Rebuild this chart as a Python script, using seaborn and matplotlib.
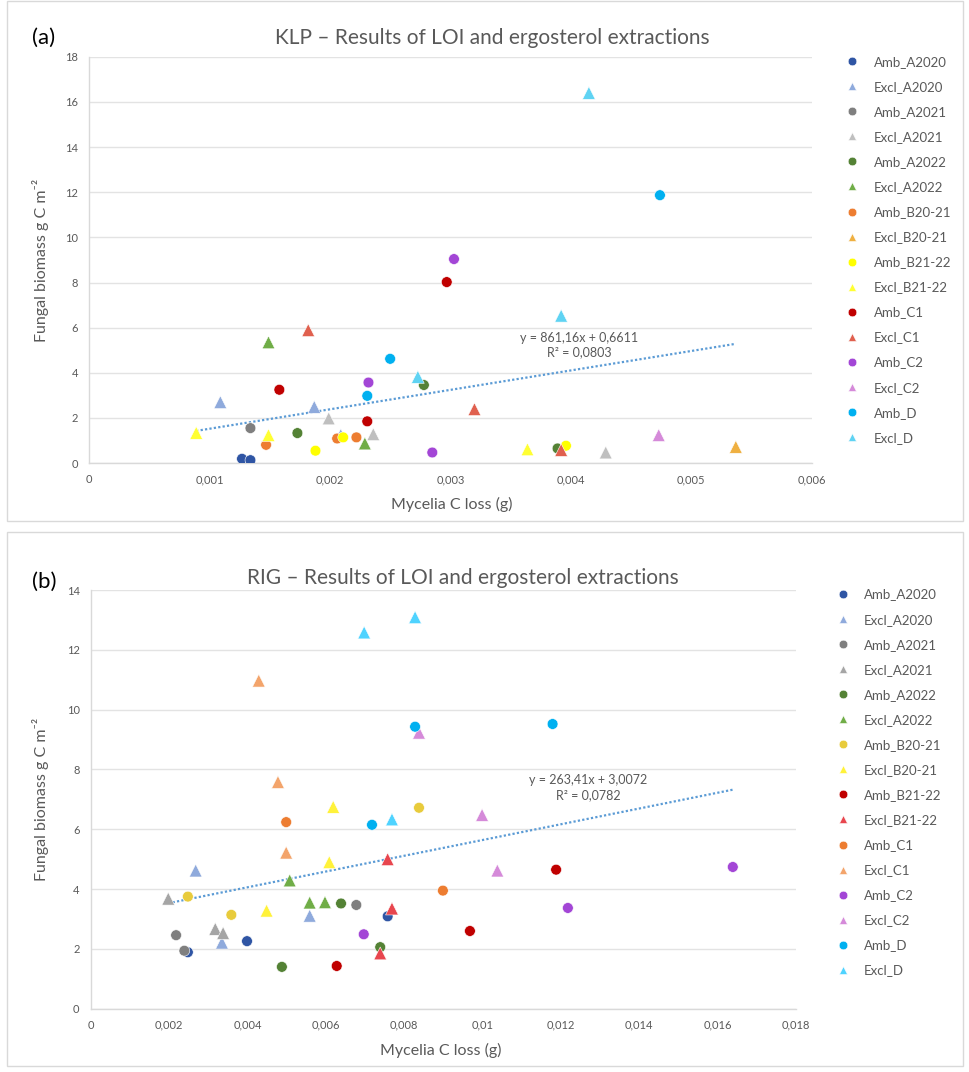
import seaborn as sns
import matplotlib.pyplot as plt
import pandas as pd
import numpy as np
from matplotlib.patches import Rectangle
from matplotlib.ticker import FuncFormatter, MultipleLocator

# Groups (legend order) and Excel-style colours
klp_groups = ['Amb_A2020', 'Excl_A2020', 'Amb_A2021', 'Excl_A2021', 'Amb_A2022', 'Excl_A2022',
              'Amb_B20-21', 'Excl_B20-21', 'Amb_B21-22', 'Excl_B21-22', 'Amb_C1', 'Excl_C1',
              'Amb_C2', 'Excl_C2', 'Amb_D', 'Excl_D']
klp_colors = ['#2F55A4', '#8FAADC', '#7F7F7F', '#BFBFBF', '#548235', '#70AD47',
              '#ED7D31', '#EFB041', '#FFFF00', '#FFFF33', '#C00000', '#E0604E',
              '#A346D6', '#D58AD9', '#00B0F0', '#5FD3F3']

rig_groups = ['Amb_A2020', 'Excl_A2020', 'Amb_A2021', 'Excl_A2021', 'Amb_A2022', 'Excl_A2022',
              'Amb_B20-21', 'Excl_B20-21', 'Amb_B21-22', 'Excl_B21-22', 'Amb_C1', 'Excl_C1',
              'Amb_C2', 'Excl_C2', 'Amb_D', 'Excl_D']
rig_colors = ['#2F55A4', '#8FAADC', '#7F7F7F', '#A5A5A5', '#548235', '#70AD47',
              '#E8CB3C', '#FFF23A', '#C00000', '#E8464E', '#ED7D31', '#F3A46B',
              '#A346D6', '#D58AD9', '#00B0F0', '#4FD3FF']

# KLP data
klp_group = ['Amb_A2020', 'Amb_A2020',
             'Excl_A2020', 'Excl_A2020', 'Excl_A2020',
             'Amb_A2021',
             'Excl_A2021', 'Excl_A2021', 'Excl_A2021',
             'Amb_A2022', 'Amb_A2022', 'Amb_A2022',
             'Excl_A2022', 'Excl_A2022',
             'Amb_B20-21', 'Amb_B20-21', 'Amb_B20-21',
             'Excl_B20-21',
             'Amb_B21-22', 'Amb_B21-22', 'Amb_B21-22',
             'Excl_B21-22', 'Excl_B21-22', 'Excl_B21-22',
             'Amb_C1', 'Amb_C1', 'Amb_C1',
             'Excl_C1', 'Excl_C1', 'Excl_C1',
             'Amb_C2', 'Amb_C2', 'Amb_C2',
             'Excl_C2',
             'Amb_D', 'Amb_D', 'Amb_D',
             'Excl_D', 'Excl_D', 'Excl_D']
klp_x = [0.00127, 0.00134,
         0.00109, 0.00187, 0.00209,
         0.00134,
         0.00199, 0.00236, 0.00429,
         0.00173, 0.00278, 0.00389,
         0.00149, 0.00229,
         0.00147, 0.00206, 0.00222,
         0.00537,
         0.00188, 0.00211, 0.00396,
         0.00089, 0.00149, 0.00364,
         0.00158, 0.00231, 0.00297,
         0.00182, 0.00320, 0.00392,
         0.00232, 0.00285, 0.00303,
         0.00473,
         0.00250, 0.00231, 0.00474,
         0.00273, 0.00392, 0.00415]
klp_y = [0.19, 0.13,
         2.70, 2.49, 1.24,
         1.55,
         1.98, 1.28, 0.47,
         1.33, 3.46, 0.65,
         5.35, 0.87,
         0.81, 1.09, 1.14,
         0.72,
         0.55, 1.14, 0.77,
         1.34, 1.24, 0.61,
         3.25, 1.85, 8.02,
         5.89, 2.39, 0.58,
         3.57, 0.47, 9.04,
         1.24,
         4.62, 2.98, 11.87,
         3.82, 6.53, 16.40]
klp_slope, klp_intercept, klp_r2 = 861.16, 0.6611, 0.0803

# RIG data
rig_group = ['Amb_A2020', 'Amb_A2020', 'Amb_A2020',
             'Excl_A2020', 'Excl_A2020', 'Excl_A2020',
             'Amb_A2021', 'Amb_A2021', 'Amb_A2021',
             'Excl_A2021', 'Excl_A2021', 'Excl_A2021',
             'Amb_A2022', 'Amb_A2022', 'Amb_A2022',
             'Excl_A2022', 'Excl_A2022', 'Excl_A2022',
             'Amb_B20-21', 'Amb_B20-21', 'Amb_B20-21',
             'Excl_B20-21', 'Excl_B20-21', 'Excl_B20-21',
             'Amb_B21-22', 'Amb_B21-22', 'Amb_B21-22',
             'Excl_B21-22', 'Excl_B21-22', 'Excl_B21-22',
             'Amb_C1', 'Amb_C1',
             'Excl_C1', 'Excl_C1', 'Excl_C1',
             'Amb_C2', 'Amb_C2', 'Amb_C2',
             'Excl_C2', 'Excl_C2', 'Excl_C2',
             'Amb_D', 'Amb_D', 'Amb_D',
             'Excl_D', 'Excl_D', 'Excl_D']
rig_x = [0.00248, 0.00399, 0.00758,
         0.00268, 0.00335, 0.00559,
         0.00218, 0.00239, 0.00678,
         0.00198, 0.00318, 0.00338,
         0.00488, 0.00639, 0.00739,
         0.00508, 0.00559, 0.00598,
         0.00248, 0.00359, 0.00838,
         0.00449, 0.00609, 0.00619,
         0.00628, 0.00968, 0.01188,
         0.00758, 0.00769, 0.00739,
         0.00499, 0.00899,
         0.00499, 0.00429, 0.00478,
         0.00697, 0.01218, 0.01639,
         0.00838, 0.00999, 0.01038,
         0.00828, 0.01179, 0.00718,
         0.00698, 0.00828, 0.00769]
rig_y = [1.89, 2.26, 3.09,
         4.62, 2.21, 3.11,
         2.46, 1.94, 3.47,
         3.68, 2.67, 2.53,
         1.40, 3.52, 2.06,
         4.29, 3.55, 3.56,
         3.75, 3.14, 6.72,
         3.28, 4.90, 6.75,
         1.43, 2.60, 4.65,
         5.00, 3.35, 1.85,
         6.24, 3.95,
         5.22, 10.97, 7.58,
         2.49, 3.37, 4.74,
         9.23, 6.48, 4.62,
         9.43, 9.52, 6.15,
         12.58, 13.09, 6.33]
rig_slope, rig_intercept, rig_r2 = 263.41, 3.0072, 0.0782

sns.set_style('white')
plt.rcParams['font.family'] = ['Lato', 'DejaVu Sans']

grey = '#595959'
comma = FuncFormatter(lambda v, p: f'{round(v, 6):g}'.replace('.', ','))

fig = plt.figure(figsize=(9.7, 10.72), dpi=100)

# panel frames
for y0, h in [(0.514, 0.485), (0.006, 0.498)]:
    fig.patches.append(Rectangle((0.007, y0), 0.986, h, transform=fig.transFigure,
                                 fill=False, edgecolor='#D9D9D9', linewidth=1))


def draw_panel(ax, groups, colors, group, x, y, slope, intercept, r2, xmax, xstep, ymax, eq_pos):
    df = pd.DataFrame({'group': group, 'x': x, 'y': y})
    palette = dict(zip(groups, colors))
    markers = {g: ('o' if g.startswith('Amb') else '^') for g in groups}
    sns.scatterplot(data=df, x='x', y='y', hue='group', style='group', hue_order=groups,
                    style_order=groups, palette=palette, markers=markers, s=60,
                    edgecolor='white', linewidth=0.4, ax=ax, zorder=3)
    # triangles a little larger than circles, as in Excel
    is_excl = df['group'].str.startswith('Excl').to_numpy()
    ax.collections[0].set_sizes(np.where(is_excl, 85, 60))

    # linear trendline (Excel)
    xs = np.array([min(x), max(x)])
    ax.plot(xs, slope * xs + intercept, color='#5B9BD5', linestyle=(0, (1, 1)),
            linewidth=1.6, zorder=2)
    ax.text(eq_pos[0], eq_pos[1],
            f'y = {slope:.2f}x + {intercept:.4f}'.replace('.', ',') + '\n' +
            f'R² = {r2:.4f}'.replace('.', ','),
            ha='center', va='center', fontsize=9, color=grey, linespacing=1.3)

    ax.set_xlim(0, xmax)
    ax.set_ylim(0, ymax)
    ax.xaxis.set_major_locator(MultipleLocator(xstep))
    ax.yaxis.set_major_locator(MultipleLocator(2))
    ax.xaxis.set_major_formatter(comma)
    ax.yaxis.set_major_formatter(FuncFormatter(lambda v, p: f'{v:.0f}'))
    ax.grid(axis='y', color='#E3E3E3', linewidth=1)
    ax.tick_params(length=0, labelsize=8, labelcolor=grey, pad=8)
    for side in ['top', 'right']:
        ax.spines[side].set_visible(False)
    for side in ['left', 'bottom']:
        ax.spines[side].set_color('#D9D9D9')
        ax.spines[side].set_linewidth(1)
    ax.set_xlabel('')
    ax.set_ylabel('')


ax1 = fig.add_axes([0.0918, 0.568, 0.745, 0.379])
draw_panel(ax1, klp_groups, klp_colors, klp_group, klp_x, klp_y, klp_slope, klp_intercept,
           klp_r2, 0.006, 0.001, 18, (0.00407, 5.23))
sns.move_legend(ax1, 'upper left', bbox_to_anchor=(0.872, 0.948), bbox_transform=fig.transFigure,
                frameon=False, title=None, fontsize=9.5, labelcolor=grey, labelspacing=0.99,
                handlelength=1.0, handletextpad=1.1, borderpad=0, borderaxespad=0,
                markerscale=0.8)

ax2 = fig.add_axes([0.0935, 0.059, 0.727, 0.3906])
draw_panel(ax2, rig_groups, rig_colors, rig_group, rig_x, rig_y, rig_slope, rig_intercept,
           rig_r2, 0.018, 0.002, 14, (0.01269, 7.40))
sns.move_legend(ax2, 'upper left', bbox_to_anchor=(0.862, 0.451), bbox_transform=fig.transFigure,
                frameon=False, title=None, fontsize=9.5, labelcolor=grey, labelspacing=0.99,
                handlelength=1.0, handletextpad=1.1, borderpad=0, borderaxespad=0,
                markerscale=0.8)

# titles, axis labels, panel letters
fig.text(0.508, 0.965, 'KLP – Results of LOI and ergosterol extractions', ha='center', va='center',
         fontsize=15, color=grey)
fig.text(0.477, 0.461, 'RIG – Results of LOI and ergosterol extractions', ha='center', va='center',
         fontsize=15, color=grey)
fig.text(0.033, 0.965, '(a)', ha='left', va='center', fontsize=16, color='black')
fig.text(0.033, 0.457, '(b)', ha='left', va='center', fontsize=16, color='black')

fig.text(0.466, 0.529, 'Mycelia C loss (g)', ha='center', va='center', fontsize=11.5, color=grey)
fig.text(0.454, 0.020, 'Mycelia C loss (g)', ha='center', va='center', fontsize=11.5, color=grey)
fig.text(0.042, 0.757, 'Fungal biomass g C m⁻²', ha='center', va='center', rotation=90,
         fontsize=11.5, color=grey)
fig.text(0.042, 0.254, 'Fungal biomass g C m⁻²', ha='center', va='center', rotation=90,
         fontsize=11.5, color=grey)

fig.savefig('out.png', dpi=100, facecolor='white')
